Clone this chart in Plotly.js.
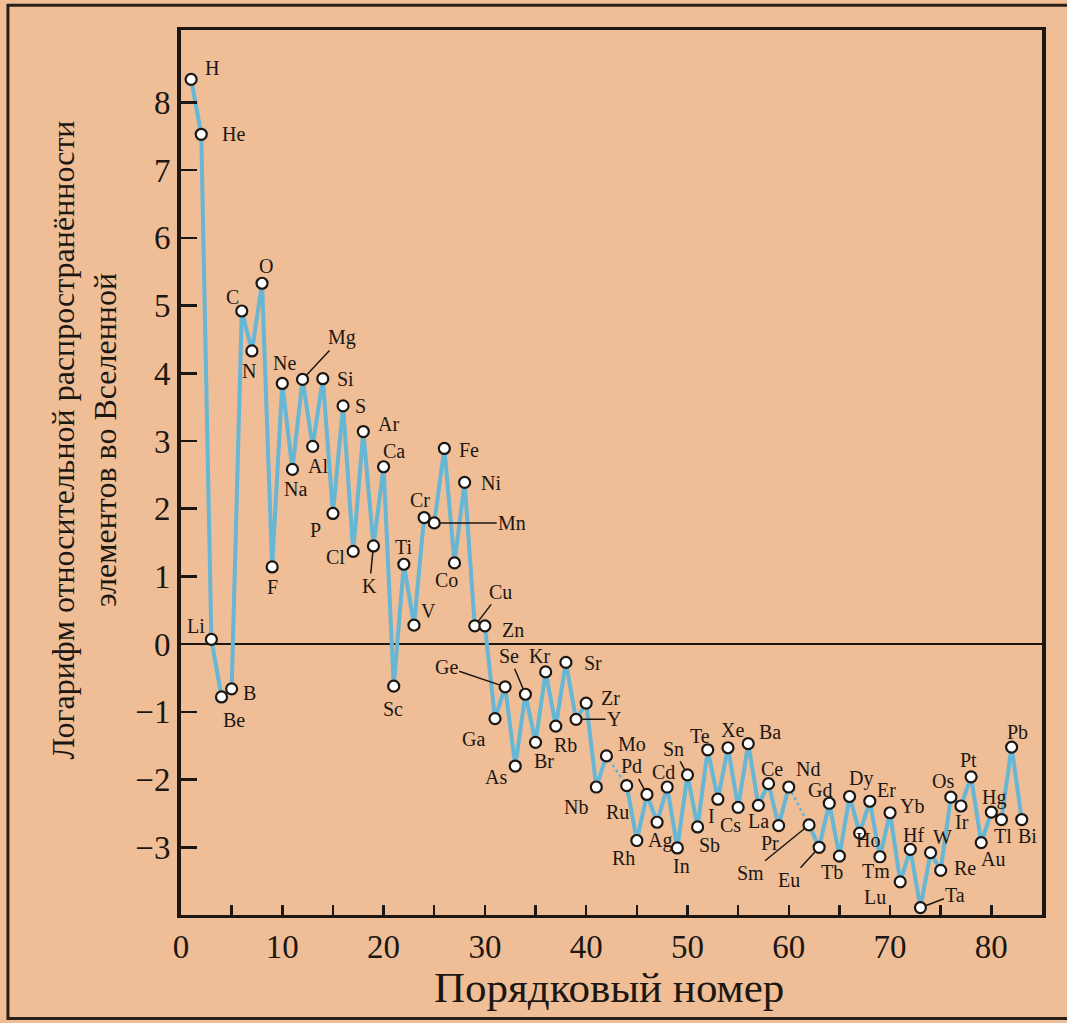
<!DOCTYPE html>
<html>
<head>
<meta charset="utf-8">
<script src="https://cdn.plot.ly/plotly-3.0.1.min.js"></script>
<style>
html,body{margin:0;padding:0;background:#EFBE97;}
#chart{width:1067px;height:1023px;}
</style>
</head>
<body>
<div id="chart"></div>
<script>
// ---- data ----
const symbols = ["H","He","Li","Be","B","C","N","O","F","Ne","Na","Mg","Al","Si","P","S","Cl","Ar","K","Ca",
  "Sc","Ti","V","Cr","Mn","Fe","Co","Ni","Cu","Zn","Ga","Ge","As","Se","Br","Kr","Rb","Sr","Y","Zr",
  "Nb","Mo","Tc","Ru","Rh","Pd","Ag","Cd","In","Sn","Sb","Te","I","Xe","Cs","Ba","La","Ce","Pr","Nd",
  "Pm","Sm","Eu","Gd","Tb","Dy","Ho","Er","Tm","Yb","Lu","Hf","Ta","W","Re","Os","Ir","Pt","Au","Hg",
  "Tl","Pb","Bi"];
const atomicNumber = [1,2,3,4,5,6,7,8,9,10,11,12,13,14,15,16,17,18,19,20,
  21,22,23,24,25,26,27,28,29,30,31,32,33,34,35,36,37,38,39,40,
  41,42,43,44,45,46,47,48,49,50,51,52,53,54,55,56,57,58,59,60,
  61,62,63,64,65,66,67,68,69,70,71,72,73,74,75,76,77,78,79,80,
  81,82,83];
const logAbundance = [8.34,7.53,0.07,-0.78,-0.66,4.92,4.33,5.33,1.14,3.85,2.58,3.91,2.92,3.92,1.93,3.52,1.37,3.14,1.45,2.62,
  -0.62,1.18,0.28,1.87,1.79,2.89,1.20,2.39,0.27,0.27,-1.10,-0.63,-1.80,-0.74,-1.45,-0.41,-1.21,-0.27,-1.11,-0.87,
  -2.11,-1.65,null,-2.09,-2.90,-2.22,-2.63,-2.11,-3.01,-1.93,-2.70,-1.56,-2.29,-1.53,-2.41,-1.47,-2.38,-2.06,-2.68,-2.11,
  null,-2.67,-3.00,-2.35,-3.13,-2.25,-2.79,-2.32,-3.14,-2.49,-3.51,-3.03,-3.89,-3.08,-3.34,-2.26,-2.39,-1.96,-2.93,-2.48,
  -2.59,-1.52,-2.59];
const xTickValues = [0,10,20,30,40,50,60,70,80];
const yTickValues = [-3,-2,-1,0,1,2,3,4,5,6,7,8];
const xTitle = "Порядковый номер";
const yTitle = "Логарифм относительной распространённости<br>элементов во Вселенной";

// ---- label placement (pixel offsets: dx right, dy down; third flag = leader line to point) ----
const labelStyle = {
  H:[21,-11],He:[32,0],Li:[-15,-13],Be:[12,23],B:[18,4],C:[-9,-14],N:[-3,20],O:[4,-17],F:[0,20],
  Ne:[2,-20],Na:[3,20],Mg:[39,-42,1],Al:[5,20],Si:[23,0],P:[-17,17],S:[17,0],Cl:[-18,6],Ar:[25,-8],
  K:[-4,40,1],Ca:[10,-16],Sc:[-1,23],Ti:[0,-17],V:[15,-14],Cr:[-4,-18],Mn:[78,0,1],Fe:[25,2],Co:[-8,17],
  Ni:[26,1],Cu:[26,-34,1],Zn:[28,4],Ga:[-22,20],Ge:[-59,-20,1],As:[-19,11],Se:[-16,-38,1],Br:[8,19],
  Kr:[-6,-16],Rb:[10,19],Sr:[27,1],Y:[38,0,1],Zr:[24,-5],Nb:[-20,20],Mo:[26,-12],Ru:[-9,26],Rh:[-13,17],
  Pd:[-15,-28,1],Ag:[3,18],Cd:[-4,-15],In:[4,18],Sn:[-14,-26,1],Sb:[12,18],Te:[-8,-14],I:[-6,17],
  Xe:[5,-18],Cs:[-8,18],Ba:[22,-12],La:[0,16],Ce:[3,-15],Pr:[-9,17],Nd:[19,-18],Sm:[-59,48,1],
  Eu:[-30,33,1],Gd:[-9,-13],Tb:[-7,16],Dy:[11,-18],Ho:[8,7],Er:[17,-11],Tm:[-4,14],Yb:[22,-7],
  Lu:[-25,15],Hf:[3,-14],Ta:[35,-13,1],W:[12,-16],Re:[24,-2],Os:[-8,-16],Ir:[1,16],Pt:[-3,-17],
  Au:[12,16],Hg:[3,-15],Tl:[2,16],Pb:[6,-15],Bi:[6,16]
};

const FONT = "Liberation Serif, Times New Roman, serif";
const LINE = "#66B6D6";
const BG = "#EFBE97";
const INK = "#1c1712";

const annotations = [];
symbols.forEach((s, i) => {
  const v = logAbundance[i];
  if (v === null || !labelStyle[s]) return;
  const st = labelStyle[s];
  if (st[2]) {
    annotations.push({x: atomicNumber[i], y: v, xref:'x', yref:'y', text: s,
      showarrow: true, arrowhead: 0, arrowwidth: 1.5, arrowcolor: INK, standoff: 6,
      ax: st[0], ay: st[1], font:{family:FONT, size:20, color:INK}});
  } else {
    annotations.push({x: atomicNumber[i], y: v, xref:'x', yref:'y', text: s,
      showarrow: false, xshift: st[0], yshift: -st[1],
      font:{family:FONT, size:20, color:INK}});
  }
});
annotations.push({xref:'paper', yref:'paper', x:-0.113, y:0.537, text:yTitle, textangle:-90,
  showarrow:false, xanchor:'center', yanchor:'middle',
  font:{family:FONT, size:32, color:INK}});
annotations.push({xref:'paper', yref:'paper', x:0.497, y:-0.082, text:xTitle,
  showarrow:false, xanchor:'center', yanchor:'middle',
  font:{family:FONT, size:43, color:INK}});

const traces = [
  {x: atomicNumber, y: logAbundance, mode:'lines', connectgaps:true,
   line:{color:LINE, width:2.5, dash:'dot'}, hoverinfo:'skip', showlegend:false},
  {x: atomicNumber, y: logAbundance, mode:'lines+markers', connectgaps:false, text: symbols,
   line:{color:LINE, width:4},
   marker:{symbol:'circle', size:11, color:'#ffffff', line:{color:INK, width:2.2}},
   showlegend:false}
];

const layout = {
  width:1067, height:1023,
  paper_bgcolor: BG, plot_bgcolor: BG,
  margin:{l:181, r:25, t:30, b:108},
  font:{family:FONT, color:INK},
  xaxis:{range:[0,85], tickvals:xTickValues, ticks:'inside', ticklen:10, tickwidth:2.5, tickcolor:INK,
    minor:{dtick:5, tick0:0, ticks:'inside', ticklen:10, tickwidth:2.5, tickcolor:INK},
    showline:true, linewidth:3, linecolor:INK, mirror:true, showgrid:false, zeroline:false,
    tickfont:{family:FONT, size:33, color:INK}},
  yaxis:{range:[-4,9.07], tickvals:yTickValues, ticks:'inside', ticklen:16, tickwidth:2.5, tickcolor:INK,
    showline:true, linewidth:4, linecolor:INK, mirror:true, showgrid:false,
    zeroline:true, zerolinecolor:INK, zerolinewidth:2.5,
    tickfont:{family:FONT, size:33, color:INK}},
  annotations: annotations,
  shapes:[
    {type:'rect', xref:'paper', yref:'paper', x0:-0.201, x1:1.05, y0:-0.117, y1:1.028,
     line:{color:'#2a2018', width:3}, layer:'below'}
  ]
};

Plotly.newPlot('chart', traces, layout, {staticPlot:true});
</script>
</body>
</html>
